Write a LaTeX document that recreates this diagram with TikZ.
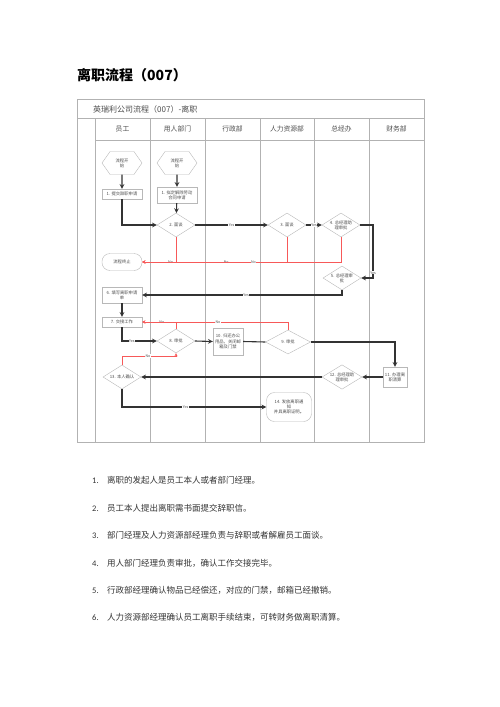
\documentclass[tikz,border=0pt]{standalone}
\usepackage{fontspec}
\setmainfont{Noto Sans CJK SC}
\newfontfamily\numfont{Carlito}
\usepackage{tikz}
\usetikzlibrary{
    arrows.meta,
    shapes.geometric,
    shapes.misc,
    shapes.symbols,
    positioning,
    calc
}
\usepackage{xcolor}
\definecolor{lanegray}{rgb}{0.70,0.70,0.70}
\definecolor{boxgray}{rgb}{0.72,0.72,0.72}
\definecolor{textgray}{rgb}{0.30,0.30,0.30}
\definecolor{nored}{rgb}{0.97,0.35,0.35}
\tikzstyle{lane} = [
    draw=lanegray,
    line width=0.5pt
]
\tikzstyle{pagetitle} = [
    anchor=west,
    inner sep=0pt,
    font=\fontsize{14}{16}\selectfont\bfseries
]
\tikzstyle{flowname} = [
    anchor=west,
    inner sep=0pt,
    text=textgray,
    font=\fontsize{8}{9}\selectfont
]
\tikzstyle{lanehead} = [
    inner sep=0pt,
    text=textgray,
    font=\fontsize{6.8}{8}\selectfont
]
\tikzstyle{procbox} = [
    rectangle,
    draw=boxgray,
    fill=white,
    text=textgray,
    minimum width=40pt,
    minimum height=10pt,
    inner sep=0.5pt,
    align=center,
    font=\fontsize{4.3}{5.2}\selectfont
]
\tikzstyle{terminal} = [
    procbox,
    rounded corners=8pt
]
\tikzstyle{startnode} = [
    signal,
    signal to=east and west,
    signal pointer angle=110,
    draw=boxgray,
    fill=white,
    text=textgray,
    minimum width=40pt,
    minimum height=23pt,
    inner sep=0.5pt,
    align=center,
    font=\fontsize{4.3}{5.2}\selectfont
]
\tikzstyle{decision} = [
    diamond,
    aspect=1.6,
    draw=boxgray,
    fill=white,
    text=textgray,
    minimum width=38pt,
    minimum height=24pt,
    inner sep=0pt,
    align=center,
    font=\fontsize{4.3}{5.2}\selectfont
]
\tikzstyle{flow} = [
    ->,
    >=stealth,
    line width=1.1pt,
    draw=black!80
]
\tikzstyle{noflow} = [
    ->,
    >=stealth,
    line width=0.4pt,
    draw=nored
]
\tikzstyle{lbl} = [
    fill=white,
    inner sep=0.4pt,
    text=textgray,
    font=\fontsize{3.6}{4}\selectfont
]
\tikzstyle{itemnum} = [
    anchor=base west,
    inner sep=0pt,
    text=black!80,
    font=\fontsize{8.5}{10}\selectfont\numfont
]
\tikzstyle{itemtext} = [
    anchor=base west,
    inner sep=0pt,
    text=black!80,
    font=\fontsize{8.5}{10}\selectfont
]

\begin{document}
\begin{tikzpicture}[x=1pt, y=-1pt]
    \useasboundingbox (0,0) rectangle (500,707);
    \node[pagetitle] (title) at (77,75) {离职流程（007）};

    % swimlane frame
    \draw[lane] (77,99) rectangle (424,442);
    \draw[lane] (77,118) -- (424,118);
    \draw[lane] (95,140) -- (424,140);
    \draw[lane] (95,118) -- (95,442);
    \draw[lane] (150,118) -- (150,442);
    \draw[lane] (205,118) -- (205,442);
    \draw[lane] (260,118) -- (260,442);
    \draw[lane] (314,118) -- (314,442);
    \draw[lane] (369,118) -- (369,442);
    \node[flowname] (flowtitle) at (93,109) {英瑞利公司流程（007）-离职};
    \node[lanehead] (hemp) at (122.5,129) {员工};
    \node[lanehead] (hdept) at (177.5,129) {用人部门};
    \node[lanehead] (hadmin) at (232.5,129) {行政部};
    \node[lanehead] (hhr) at (287,129) {人力资源部};
    \node[lanehead] (hgm) at (341.5,129) {总经办};
    \node[lanehead] (hfin) at (396.5,129) {财务部};

    % steps
    \node[startnode] (s1) at (122,163) {流程开\\始};
    \node[startnode] (s2) at (177,163) {流程开\\始};
    \node[procbox] (a1) at (122,194) {1. 提交辞职申请};
    \node[procbox, minimum height=16pt] (b1) at (177,195) {1. 拟定解除劳动\\合同申请};
    \node[decision] (d2) at (176,225) {2. 面谈};
    \node[decision] (d3) at (287,225) {3. 面谈};
    \node[decision] (d4) at (341,225) {4. 总经理助\\理审批};
    \node[terminal, minimum height=17pt] (stop) at (122,262) {流程终止};
    \node[decision] (d5) at (342,278) {5. 总经理审\\批};
    \node[procbox, minimum height=16pt] (a6) at (122,295) {6. 填写离职申请\\单};
    \node[procbox] (a7) at (122,322) {7. 交接工作};
    \node[decision] (d8) at (176,341) {8. 审批};
    \node[procbox, minimum width=30pt, minimum height=27pt] (c10) at (228,341.5) {10. 归还办公\\用品，关闭邮\\箱及门禁};
    \node[decision, minimum width=45pt] (d9) at (288,342) {9. 审批};
    \node[procbox, minimum width=24pt, minimum height=20pt] (f11) at (395,377) {11. 办理离\\职清算};
    \node[decision, minimum width=40pt] (d12) at (342,377) {12. 总经理助\\理审批};
    \node[decision] (d13) at (122,377) {13. 本人确认};
    \node[terminal, minimum width=45pt, minimum height=29pt] (h14) at (289,407) {14. 发放离职通\\知\\并具离职证明。};
    \coordinate (c4) at (373,225);

    % yes flow
    \draw[flow] (s1) -- (a1);
    \draw[flow] (s2) -- (b1);
    \draw[flow] (b1) -- (d2);
    \draw[flow] (a1.south) |- (d2.west);
    \draw[flow] (d2.east) -- node[lbl] {Yes} (d3.west);
    \draw[flow] (d3.east) -- node[lbl] {Yes} (d4.west);
    \draw[flow] (d4.east) -- (c4) |- node[lbl, pos=0.45] {Yes} (d5.east);
    \draw[flow] (d5.south) |- node[lbl, pos=0.74] {Yes} (a6.east);
    \draw[flow] (a6) -- (a7);
    \draw[flow] (a7.south) |- node[lbl, pos=0.64] {Yes} (d8.west);
    \draw[flow] (d8.east) -- (c10.west);
    \draw[flow, -] (c10.east) -- (d9.west);
    \draw[flow] (d9.east) -| (f11.north);
    \draw[flow] (f11.west) -- (d12.east);
    \draw[flow] (d12.west) -- (d13.east);
    \draw[flow] (d13.south) |- node[lbl, pos=0.72] {Yes} (h14.west);

    % no flow
    \draw[noflow] (d2.south) |- node[lbl, pos=0.58] {No} (stop.east);
    \draw[noflow] (d3.south) |- node[lbl, pos=0.71] {No} (stop.east);
    \draw[noflow] (d4.south) |- node[lbl, pos=0.72] {No} (stop.east);
    \draw[noflow] (d8.north) |- node[lbl, pos=0.71] {No} (a7.east);
    \draw[noflow] (d9.north) |- node[lbl, pos=0.74] {No} (a7.east);
    \draw[noflow] (d13.north) -- ++(0,-9) -| node[lbl, pos=0.24] {No} (d8.south);

    % notes
    \node[itemnum] (n1) at (92,483) {1.};
    \node[itemtext] (t1) at (107,483) {离职的发起人是员工本人或者部门经理。};
    \node[itemnum] (n2) at (92,511) {2.};
    \node[itemtext] (t2) at (107,511) {员工本人提出离职需书面提交辞职信。};
    \node[itemnum] (n3) at (92,538.5) {3.};
    \node[itemtext] (t3) at (107,538.5) {部门经理及人力资源部经理负责与辞职或者解雇员工面谈。};
    \node[itemnum] (n4) at (92,566) {4.};
    \node[itemtext] (t4) at (107,566) {用人部门经理负责审批，确认工作交接完毕。};
    \node[itemnum] (n5) at (92,593) {5.};
    \node[itemtext] (t5) at (107,593) {行政部经理确认物品已经偿还，对应的门禁，邮箱已经撤销。};
    \node[itemnum] (n6) at (92,620) {6.};
    \node[itemtext] (t6) at (107,620) {人力资源部经理确认员工离职手续结束，可转财务做离职清算。};
\end{tikzpicture}
\end{document}
